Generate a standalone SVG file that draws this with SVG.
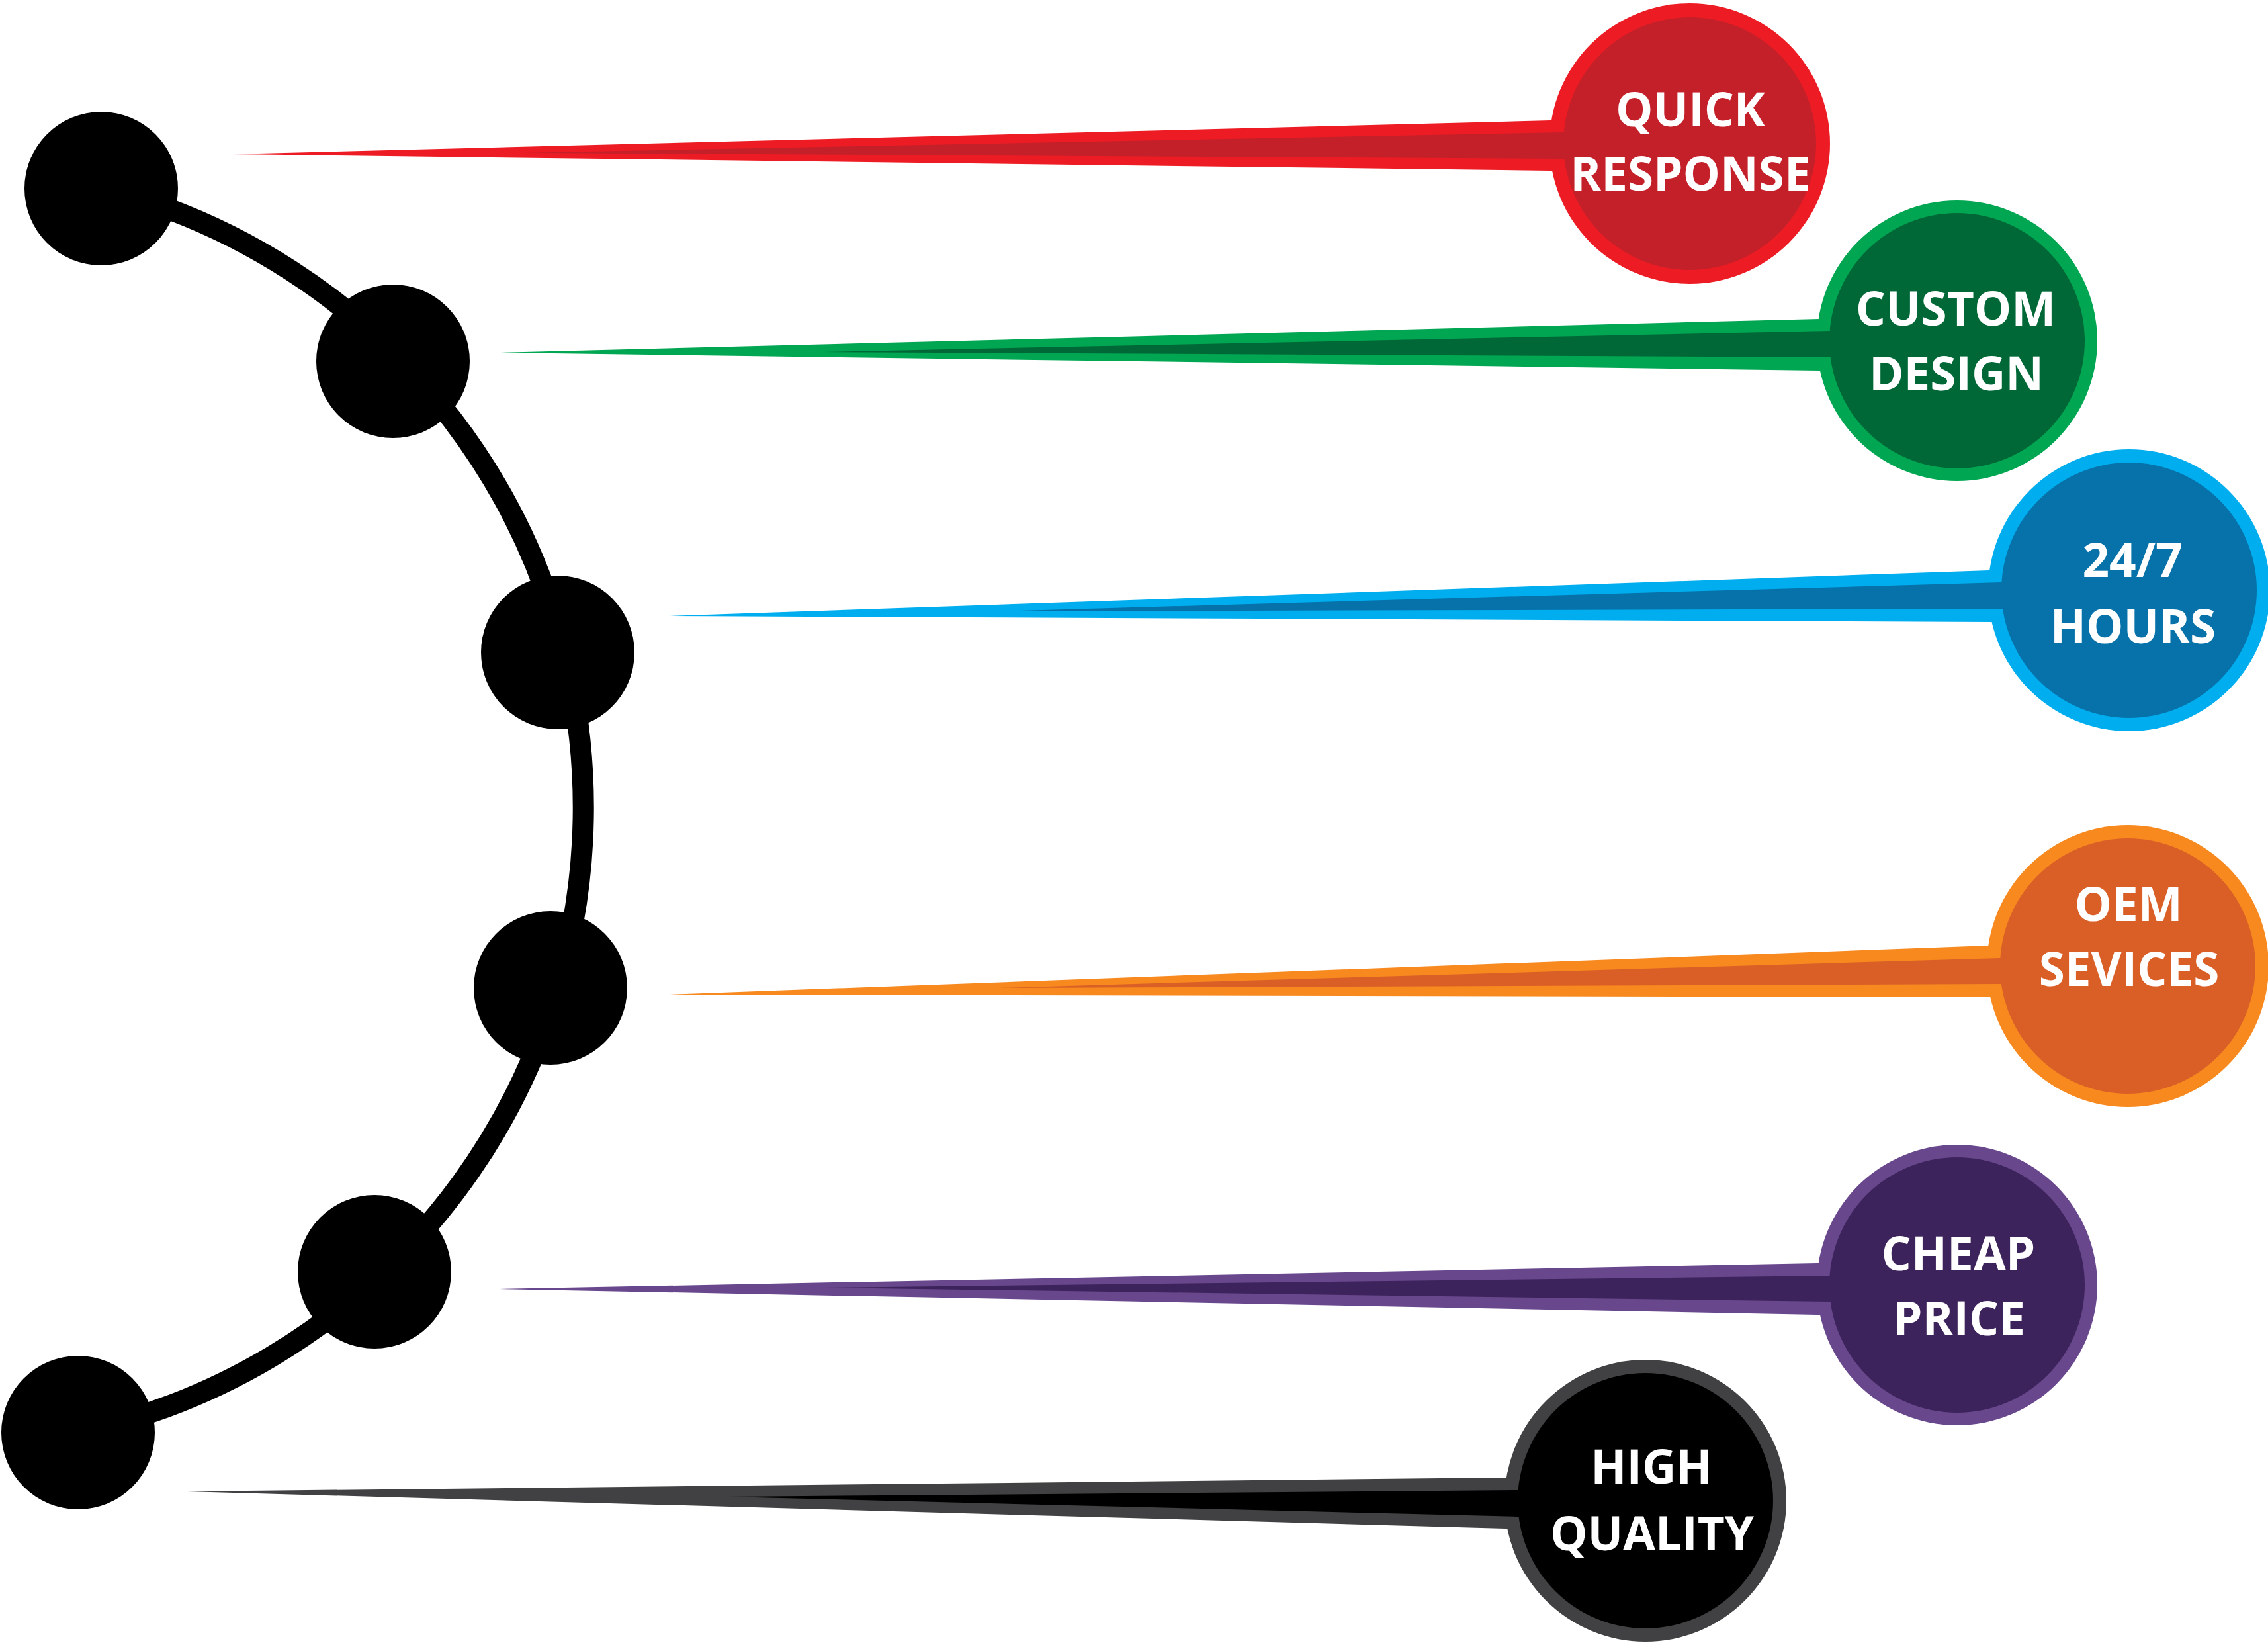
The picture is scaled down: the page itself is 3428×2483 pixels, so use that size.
<svg xmlns="http://www.w3.org/2000/svg" width="3428" height="2483" viewBox="0 0 3428 2483">
<style>
.lbl{font-family:"Open Sans","Liberation Sans",sans-serif;font-weight:700;font-size:71px;fill:#ffffff;text-anchor:middle}
.dot{fill:#000000}
</style>
<rect width="3428" height="2483" fill="#ffffff"/>
<g id="connectors">
<path d="M153 284 A 966 966 0 0 1 118 2165" fill="none" stroke="#000000" stroke-width="32"/>
</g>
<g id="dots">
<circle id="dot-1" class="dot" cx="153" cy="285" r="116"/>
<circle id="dot-2" class="dot" cx="594" cy="546" r="116"/>
<circle id="dot-3" class="dot" cx="843" cy="986" r="116"/>
<circle id="dot-4" class="dot" cx="832" cy="1493" r="116"/>
<circle id="dot-5" class="dot" cx="566" cy="1922" r="116"/>
<circle id="dot-6" class="dot" cx="118" cy="2165" r="116"/>
</g>
<g id="badge-quick-response">
<circle cx="2554" cy="217" r="212" fill="#ED1C24"/>
<polygon points="351,233 2343,182 2554,177 2554,261 2343,258" fill="#ED1C24"/>
<circle cx="2554" cy="217" r="191" fill="#C4202A"/>
<polygon points="790,231 2363,200 2554,196 2554,241 2363,240" fill="#C4202A"/>
<text class="lbl" x="2555" y="191">QUICK</text>
<text class="lbl" x="2555" y="288">RESPONSE</text>
</g>
<g id="badge-custom-design">
<circle cx="2958" cy="515" r="212" fill="#00A651"/>
<polygon points="756,533 2750,482 2958,477 2958,563 2750,560" fill="#00A651"/>
<circle cx="2958" cy="515" r="193" fill="#006837"/>
<polygon points="1244,532 2765,500 2958,496 2958,542 2765,540" fill="#006837"/>
<text class="lbl" x="2956" y="492">CUSTOM</text>
<text class="lbl" x="2957" y="590">DESIGN</text>
</g>
<g id="badge-24-7-hours">
<circle cx="3218" cy="892" r="213" fill="#00AEEF"/>
<polygon points="1012,931 3006,862 3218,855 3218,941 3006,940" fill="#00AEEF"/>
<circle cx="3218" cy="892" r="193" fill="#0672A9"/>
<polygon points="1507,924 3025,880 3218,875 3218,920 3025,920" fill="#0672A9"/>
<text class="lbl" x="3223" y="872">24/7</text>
<text class="lbl" x="3224" y="972">HOURS</text>
</g>
<g id="badge-oem-sevices">
<circle cx="3216" cy="1460" r="213" fill="#F7891F"/>
<polygon points="1012,1503 3005,1429 3216,1421 3216,1508 3005,1507" fill="#F7891F"/>
<circle cx="3216" cy="1460" r="193" fill="#D95F27"/>
<polygon points="1512,1493 3023,1448 3216,1442 3216,1486 3023,1487" fill="#D95F27"/>
<text class="lbl" x="3217" y="1392">OEM</text>
<text class="lbl" x="3218" y="1490">SEVICES</text>
</g>
<g id="badge-cheap-price">
<circle cx="2958" cy="1942" r="212" fill="#68478D"/>
<polygon points="755,1948 2746,1909 2958,1905 2958,1991 2746,1987" fill="#68478D"/>
<circle cx="2958" cy="1942" r="193" fill="#3D235B"/>
<polygon points="1244,1946 2765,1928 2958,1926 2958,1969 2765,1967" fill="#3D235B"/>
<text class="lbl" x="2960" y="1920">CHEAP</text>
<text class="lbl" x="2961" y="2018">PRICE</text>
</g>
<g id="badge-high-quality">
<circle cx="2487" cy="2268" r="213" fill="#414042"/>
<polygon points="283,2254 2275,2233 2487,2231 2487,2316 2275,2310" fill="#414042"/>
<circle cx="2487" cy="2268" r="193" fill="#000000"/>
<polygon points="1100,2262 2294,2252 2487,2250 2487,2295 2294,2292" fill="#000000"/>
<text class="lbl" x="2496" y="2242">HIGH</text>
<text class="lbl" x="2497" y="2343">QUALITY</text>
</g>
</svg>
